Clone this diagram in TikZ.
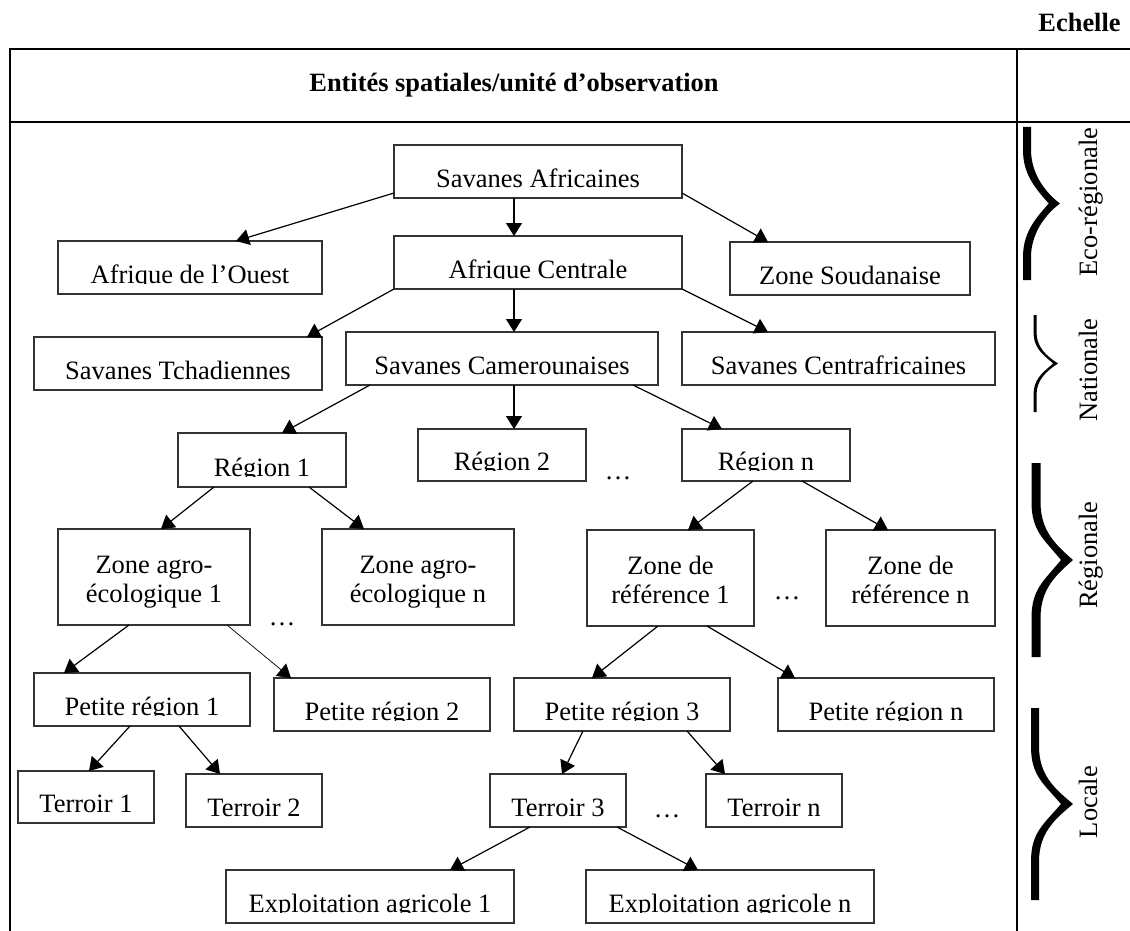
\documentclass[tikz,border=0pt]{standalone}
\usepackage{fontspec}
\setmainfont{Liberation Serif}
\usetikzlibrary{arrows.meta}
\tikzset{
  box/.style={draw=black!80, line width=0.65pt, inner sep=0pt, outer sep=0pt, font=\fontsize{13.25}{14.5}\selectfont},
  arr/.style={line width=0.6pt, draw=black, -{Triangle[length=6.5pt,width=8pt]}},
  thinarr/.style={arr, line width=0.35pt},
  dotsnode/.style={inner sep=0pt, anchor=base, font=\fontsize{13.25}{14.5}\selectfont},
  lbl/.style={inner sep=0pt, anchor=base, rotate=90, font=\fontsize{13.25}{14.5}\selectfont},
  hdr/.style={inner sep=0pt, font=\fontsize{13.2}{14.5}\selectfont\bfseries},
  tline/.style={line width=1.35pt, draw=black},
  cline/.style={line width=1.15pt, draw=black},
}
\newcommand\sbx[6]{%
  \pgfmathsetmacro\bxw{(#4-#2)*0.5}%
  \pgfmathsetmacro\bxh{(#5-#3-11)*0.5}%
  \pgfmathsetmacro\bxcx{(#2+#4)/2}%
  \pgfmathsetmacro\bxcy{(#3+#5)/2}%
  \node[box, minimum width=\bxw pt, text height=\bxh pt, text depth=5.5pt] (#1) at (\bxcx,\bxcy) {#6};
  \fill[white] (#2+1.5,#5-10) rectangle (#4-1.5,#5-1.5);
}
\newcommand\dbx[7]{%
  \pgfmathsetmacro\bxw{(#4-#2)*0.5}%
  \pgfmathsetmacro\bxh{(#5-23-#3)*0.5}%
  \pgfmathsetmacro\bxcx{(#2+#4)/2}%
  \pgfmathsetmacro\bxcy{(#3+#5)/2}%
  \node[box, minimum width=\bxw pt, text height=\bxh pt, text depth=11.5pt] (#1) at (\bxcx,\bxcy)
    {\begin{tabular}[b]{@{}c@{}}#6\\#7\end{tabular}};
}
\newcommand\drawbrace[7]{% x0 top bottom tipx w wp straightfrac
  \pgfmathsetmacro\bM{(#2+#3)/2}%
  \pgfmathsetmacro\bh{(#3-#2)/2}%
  \pgfmathsetmacro\bys{#2+#7*\bh}%
  \pgfmathsetmacro\bye{#3-#7*\bh}%
  \pgfmathsetmacro\bca{0.3*\bh}%
  \pgfmathsetmacro\bxl{#1-#5/2}%
  \pgfmathsetmacro\bxr{#1+#5/2}%
  \pgfmathsetmacro\boff{1.6*#6}%
  \pgfmathsetmacro\btip{#4-\boff}%
  \pgfmathsetmacro\bcx{#1+0.3*(\btip-#1)}%
  \pgfmathsetmacro\bcy{0.22*\bh}%
  \pgfmathsetmacro\bcyr{0.22*\bh-0.8*#6}%
  \fill[black] (\bxl,#2) -- (\bxl,\bys) .. controls (\bxl,\bys+\bca) and (\bcx,\bM-\bcy) .. (\btip,\bM)
    .. controls (\bcx,\bM+\bcy) and (\bxl,\bye-\bca) .. (\bxl,\bye) -- (\bxl,#3) -- (\bxr,#3) -- (\bxr,\bye)
    .. controls (\bxr,\bye-\bca) and (\bcx+\boff,\bM+\bcyr) .. (#4,\bM)
    .. controls (\bcx+\boff,\bM-\bcyr) and (\bxr,\bys+\bca) .. (\bxr,\bys) -- (\bxr,#2) -- cycle;
}
\begin{document}
\begin{tikzpicture}[x=0.5pt,y=-0.5pt]
\useasboundingbox (0,0) rectangle (1130,931);
% table frame
\coordinate (tl) at (10,49);
\coordinate (tr) at (1130,49);
\coordinate (dl) at (10,122);
\coordinate (dr) at (1130,122);
\coordinate (bl) at (10,931);
\coordinate (ct) at (1017,49);
\coordinate (cb) at (1017,931);
\draw[tline] (tl) -- (tr);
\draw[tline] (dl) -- (dr);
\draw[tline] ([yshift=0.67pt]tl) -- (bl);
\draw[cline] (ct) -- (cb);
\node[hdr, anchor=base east] (echelle) at (1121,32) {Echelle};
\node[hdr, anchor=base] (entites) at (514,92) {Entités spatiales/unité d’observation};
% boxes
\sbx{sa}{394}{145}{682}{198}{Savanes Africaines}
\sbx{ao}{58}{241}{322}{294}{Afrique de l’Ouest}
\sbx{ac}{394}{236}{682}{289}{Afrique Centrale}
\sbx{zs}{730}{242}{970}{295}{Zone Soudanaise}
\sbx{st}{34}{337}{322}{390}{Savanes Tchadiennes}
\sbx{sc}{346}{332}{658}{385}{Savanes Camerounaises}
\sbx{sca}{682}{332}{995}{385}{Savanes Centrafricaines}
\sbx{r1}{178}{433}{346}{487}{Région 1}
\sbx{r2}{418}{429}{586}{481}{Région 2}
\sbx{rn}{682}{429}{850}{481}{Région n}
\dbx{za1}{58}{529}{250}{625}{Zone agro-}{écologique 1}
\dbx{zan}{322}{529}{514}{625}{Zone agro-}{écologique n}
\dbx{zr1}{587}{530}{754}{626}{Zone de}{référence 1}
\dbx{zrn}{826}{530}{995}{626}{Zone de}{référence n}
\sbx{pr1}{34}{673}{250}{726}{Petite région 1}
\sbx{pr2}{274}{678}{490}{731}{Petite région 2}
\sbx{pr3}{514}{678}{730}{731}{Petite région 3}
\sbx{prn}{778}{678}{994}{731}{Petite région n}
\sbx{t1}{18}{771}{154}{823}{Terroir 1}
\sbx{t2}{186}{774}{322}{827}{Terroir 2}
\sbx{t3}{490}{774}{626}{827}{Terroir 3}
\sbx{tn}{706}{774}{842}{827}{Terroir n}
\sbx{ea1}{226}{870}{514}{923}{Exploitation agricole 1}
\sbx{ean}{586}{870}{874}{923}{Exploitation agricole n}
% ellipses
\node[dotsnode] (dots1) at (618,479) {…};
\node[dotsnode] (dots2) at (282,625) {…};
\node[dotsnode] (dots3) at (787,599) {…};
\node[dotsnode] (dots4) at (667,817) {…};
% arrows
\draw[arr] ([yshift=2.5pt]sa.south west) -- ([xshift=89pt]ao.north west);
\draw[arr] ([xshift=60pt]sa.south west) -- ([xshift=60pt]ac.north west);
\draw[arr] ([yshift=2.5pt]sa.south east) -- ([xshift=19pt]zs.north west);
\draw[arr] (ac.south west) -- ([xshift=136.5pt]st.north west);
\draw[arr] ([xshift=60pt]ac.south west) -- ([xshift=84pt]sc.north west);
\draw[arr] (ac.south east) -- ([xshift=43pt]sca.north west);
\draw[arr] ([xshift=12pt]sc.south west) -- ([xshift=52pt]r1.north west);
\draw[arr] ([xshift=84pt]sc.south west) -- ([xshift=48pt]r2.north west);
\draw[arr] ([xshift=143.5pt]sc.south west) -- ([xshift=20pt]rn.north west);
\draw[arr] ([xshift=18pt]r1.south west) -- ([xshift=51.5pt]za1.north west);
\draw[arr] ([xshift=65.5pt]r1.south west) -- ([xshift=21pt]zan.north west);
\draw[arr] ([xshift=35.5pt]rn.south west) -- ([xshift=50.5pt]zr1.north west);
\draw[arr] ([xshift=60pt]rn.south west) -- ([xshift=31pt]zrn.north west);
\draw[arr] ([xshift=35.5pt]za1.south west) -- ([xshift=15pt]pr1.north west);
\draw[thinarr] ([xshift=84.5pt]za1.south west) -- ([xshift=8.5pt]pr2.north west);
\draw[arr] ([xshift=35.5pt]zr1.south west) -- ([xshift=39pt]pr3.north west);
\draw[arr] ([xshift=60pt]zr1.south west) -- ([xshift=8.5pt]prn.north west);
\draw[arr] ([xshift=48pt]pr1.south west) -- ([xshift=35.5pt]t1.north west);
\draw[arr] ([xshift=72.5pt]pr1.south west) -- ([xshift=17pt]t2.north west);
\draw[arr] ([xshift=34.5pt]pr3.south west) -- ([xshift=36pt]t3.north west);
\draw[arr] ([xshift=86.5pt]pr3.south west) -- ([xshift=9.5pt]tn.north west);
\draw[arr] ([xshift=20pt]t3.south west) -- ([xshift=112pt]ea1.north west);
\draw[arr] ([xshift=63.5pt]t3.south west) -- ([xshift=56pt]ean.north west);
% scale braces and labels
\drawbrace{1027}{127}{280}{1060}{8}{7}{0.3}
\drawbrace{1035}{315}{412}{1058}{3}{3}{0.35}
\drawbrace{1036}{463}{657}{1073}{9}{7.5}{0.4}
\drawbrace{1035}{708}{900}{1073}{8}{7.5}{0.4}
\node[lbl] (eco) at (1097,202) {Eco-régionale};
\node[lbl] (nat) at (1097,370) {Nationale};
\node[lbl] (reg) at (1097,555) {Régionale};
\node[lbl] (loc) at (1097,802) {Locale};
\end{tikzpicture}
\end{document}
